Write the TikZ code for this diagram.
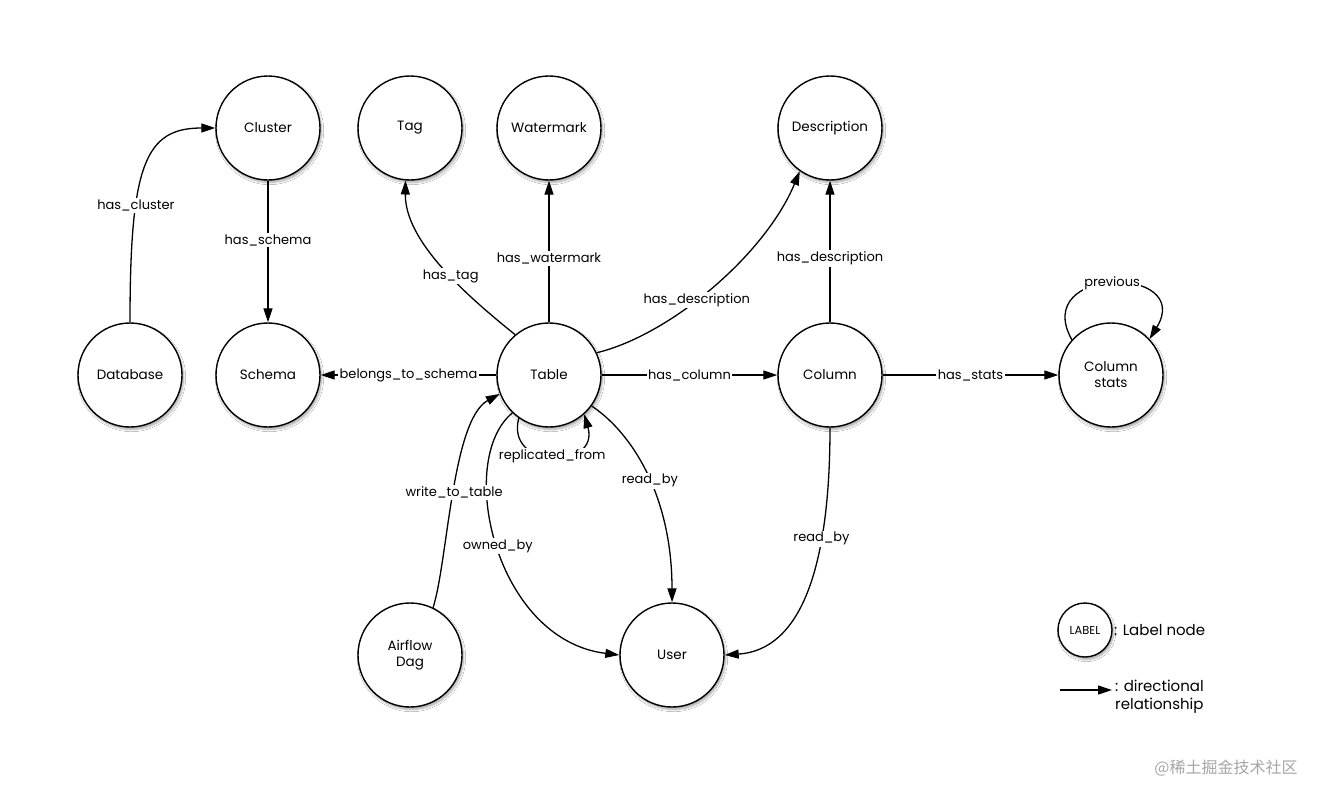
\documentclass[tikz,border=0pt]{standalone}
\usepackage{fontspec}
\setmainfont{Poppins}
\newfontfamily\cjkfont{Noto Sans CJK SC}
\usetikzlibrary{arrows.meta,shadows.blur}
\begin{document}
\begin{tikzpicture}[x=1pt,y=-1pt,
  ent/.style={circle,draw,line width=1.4pt,fill=white,minimum size=104pt,inner sep=0pt,
    align=center,font=\fontsize{13.5}{16}\selectfont,
    blur shadow={shadow blur steps=6,shadow xshift=1.5pt,shadow yshift=-2.5pt,shadow opacity=35}},
  arr/.style={line width=1.3pt,-{Triangle[length=14pt,width=9pt]}},
  lbl/.style={fill=white,inner sep=1.5pt,font=\fontsize{13}{15}\selectfont}]
\useasboundingbox (0,0) rectangle (1327,800);
\fill[white] (0,0) rectangle (1327,800);
% nodes
\node[ent] (cl) at (268,128) {Cluster};
\node[ent] (db) at (130,375) {Database};
\node[ent] (sc) at (268,375) {Schema};
\node[ent] (tag) at (410,128) {Tag};
\node[ent] (wm) at (549,128) {Watermark};
\node[ent] (desc) at (830,128) {Description};
\node[ent] (tb) at (549,375) {Table};
\node[ent] (col) at (830,375) {Column};
\node[ent] (cs) at (1111,375) {Column\\stats};
\node[ent] (af) at (410,655) {Airflow\\Dag};
\node[ent] (us) at (672,655) {User};
% edges
\draw[arr] (db.north) .. controls (130,165) and (145,128) .. node[lbl,pos=0.32]{has\_cluster} (cl.west);
\draw[arr] (cl) -- node[lbl,pos=0.42]{has\_schema} (sc);
\draw[arr] (tb.130) .. controls (462,292) and (405,240) .. node[lbl,pos=0.42]{has\_tag} (tag.265);
\draw[arr] (tb) -- node[lbl,pos=0.45]{has\_watermark} (wm);
\draw[arr] (tb.25) .. controls (670,335) and (765,255) .. node[lbl,pos=0.43]{has\_description} (desc.235);
\draw[arr] (col) -- node[lbl,pos=0.45]{has\_description} (desc);
\draw[arr] (tb) -- node[lbl,pos=0.5]{belongs\_to\_schema} (sc);
\draw[arr] (tb) -- node[lbl,pos=0.5]{has\_column} (col);
\draw[arr] (col) -- node[lbl,pos=0.5]{has\_stats} (cs);
\draw[arr] (cs.138) .. controls (1030,265) and (1195,265) .. node[lbl,pos=0.5]{previous} (cs.43);
\draw[arr] (tb.235) .. controls (505,470) and (600,470) .. node[lbl,pos=0.5]{replicated\_from} (tb.312);
\draw[arr] (tb.324) .. controls (635,435) and (672,500) .. node[lbl,pos=0.52]{read\_by} (us.north);
\draw[arr] (tb.226) .. controls (455,460) and (495,640) .. node[lbl,pos=0.5]{owned\_by} (us.west);
\draw[arr] (af.64) .. controls (448,560) and (452,420) .. node[lbl,pos=0.5]{write\_to\_table} (tb.201);
\draw[arr] (col.south) .. controls (830,570) and (800,650) .. node[lbl,pos=0.3]{read\_by} (us.east);
% legend
\node[ent,minimum size=54pt,font=\fontsize{11.5}{13}\selectfont] (lg) at (1085,630) {LABEL};
\node[anchor=west,inner sep=0pt,font=\fontsize{15}{18}\selectfont] (lgt) at (1114,630) {: Label node};
\coordinate (la) at (1060,690);
\coordinate (lb) at (1112,690);
\draw[arr] (la) -- (lb);
\node[anchor=north west,inner sep=0pt,align=left,font=\fontsize{15}{18}\selectfont] (lgr) at (1115,680) {: directional\\relationship};
\node[anchor=center,inner sep=0pt,text=black!35,font=\cjkfont\fontsize{16}{18}\selectfont] (wmk) at (1226,768) {@稀土掘金技术社区};
\end{tikzpicture}
\end{document}
